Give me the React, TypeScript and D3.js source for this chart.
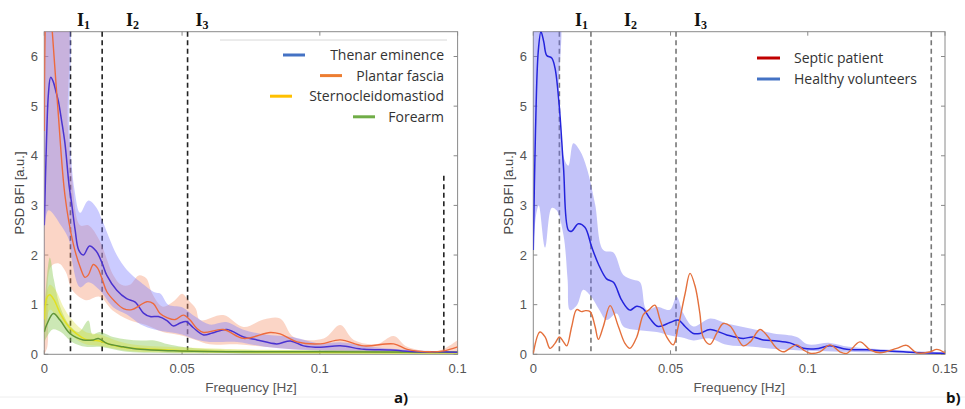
import React from "react";
import * as d3 from "d3";

type P = [number, number];

// ---------- Panel a data (frequency [Hz], PSD) ----------
const thenarLine: P[] = [[0,2.6],[0.0008,4.3],[0.0015,5.25],[0.0023,5.58],[0.0032,5.5],[0.0042,5.3],[0.0051,5.1],[0.0063,4.7],[0.0075,4.25],[0.009,3.4],[0.0099,3.05],[0.0112,2.5],[0.0125,2.1],[0.0142,2.0],[0.0164,2.18],[0.0188,2.08],[0.0209,1.85],[0.0227,1.59],[0.0263,1.29],[0.0299,1.12],[0.033,1.05],[0.036,0.83],[0.0384,0.76],[0.0414,0.76],[0.0445,0.68],[0.0469,0.57],[0.0493,0.63],[0.0515,0.66],[0.054,0.54],[0.0578,0.39],[0.061,0.43],[0.0663,0.5],[0.0723,0.35],[0.0772,0.29],[0.0844,0.21],[0.0893,0.27],[0.0941,0.17],[0.1002,0.14],[0.1074,0.17],[0.116,0.1],[0.1256,0.085],[0.1353,0.05],[0.1438,0.05],[0.15,0.04]];
const thenarUpper: P[] = [[0,7],[0.0075,7],[0.009,4.6],[0.011,3.3],[0.013,2.85],[0.016,3.1],[0.019,2.95],[0.021,2.7],[0.0263,2.0],[0.03,1.7],[0.035,1.45],[0.04,1.25],[0.0422,1.22],[0.045,1.0],[0.05,0.95],[0.055,0.75],[0.06,0.6],[0.066,0.65],[0.072,0.5],[0.08,0.4],[0.09,0.35],[0.1,0.22],[0.108,0.24],[0.12,0.14],[0.135,0.08],[0.15,0.05]];
const thenarLower: P[] = [[0,0.8],[0.0015,2.9],[0.006,2.6],[0.009,2.3],[0.01,1.9],[0.013,1.35],[0.016,1.45],[0.02,1.3],[0.025,0.95],[0.03,0.8],[0.035,0.6],[0.04,0.5],[0.045,0.45],[0.05,0.4],[0.055,0.3],[0.06,0.25],[0.07,0.25],[0.08,0.15],[0.09,0.1],[0.1,0.07],[0.12,0.03],[0.15,0.0]];

const plantarLine: P[] = [[0,4.5],[0.0004,6.8],[0.0012,7.8],[0.002,7.3],[0.0029,6.5],[0.005,4.9],[0.0075,3.2],[0.0105,2.23],[0.013,1.76],[0.0148,1.55],[0.016,1.6],[0.0178,1.81],[0.0193,1.74],[0.0209,1.53],[0.0227,1.26],[0.0257,1.06],[0.0287,0.92],[0.0318,0.9],[0.0348,0.99],[0.0372,1.06],[0.0396,1.02],[0.042,0.82],[0.0445,0.74],[0.0475,0.7],[0.0505,0.79],[0.0529,0.69],[0.0554,0.52],[0.0578,0.44],[0.065,0.5],[0.0723,0.32],[0.082,0.44],[0.0856,0.41],[0.0917,0.25],[0.1002,0.21],[0.1074,0.29],[0.116,0.17],[0.1268,0.21],[0.1317,0.1],[0.14,0.05],[0.145,0.07],[0.15,0.15]];
const plantarUpper: P[] = [[0,7],[0.007,7],[0.0085,4.6],[0.01,3.6],[0.013,2.6],[0.016,2.6],[0.02,2.3],[0.025,1.6],[0.028,1.4],[0.031,1.4],[0.0343,1.59],[0.037,1.53],[0.0392,1.22],[0.043,0.96],[0.0474,1.09],[0.05,1.22],[0.0523,1.09],[0.055,0.92],[0.0565,0.69],[0.065,0.79],[0.0723,0.55],[0.0796,0.7],[0.0856,0.72],[0.0905,0.35],[0.1014,0.32],[0.1074,0.59],[0.1123,0.29],[0.1208,0.21],[0.1268,0.37],[0.1317,0.15],[0.143,0.07],[0.15,0.29]];
const plantarLower: P[] = [[0,0],[0.0011,0.15],[0.0023,1.76],[0.0053,1.83],[0.0078,1.66],[0.0102,1.29],[0.0151,1.09],[0.02,1.16],[0.0247,0.89],[0.0308,0.69],[0.037,0.59],[0.043,0.45],[0.049,0.39],[0.055,0.29],[0.06,0.2],[0.07,0.2],[0.08,0.15],[0.09,0.1],[0.1,0.08],[0.11,0.06],[0.12,0.04],[0.13,0.03],[0.15,0.03]];

const sternoLine: P[] = [[0,0.7],[0.001,1.15],[0.002,1.2],[0.0035,1.1],[0.006,0.8],[0.009,0.55],[0.012,0.4],[0.015,0.3],[0.018,0.28],[0.02,0.27],[0.025,0.18],[0.03,0.13],[0.04,0.1],[0.05,0.07],[0.07,0.05],[0.1,0.04],[0.15,0.03]];
const sternoUpper: P[] = [[0,1.0],[0.002,1.4],[0.004,1.3],[0.007,0.95],[0.01,0.7],[0.015,0.45],[0.02,0.4],[0.03,0.22],[0.05,0.14],[0.08,0.09],[0.15,0.06]];
const sternoLower: P[] = [[0,0.3],[0.002,0.9],[0.004,0.8],[0.007,0.6],[0.01,0.38],[0.015,0.2],[0.02,0.17],[0.03,0.07],[0.05,0.03],[0.15,0.01]];

const forearmLine: P[] = [[0,0.45],[0.0009,0.6],[0.0033,0.82],[0.0057,0.69],[0.0093,0.42],[0.0141,0.29],[0.0178,0.29],[0.0196,0.32],[0.0227,0.22],[0.0287,0.15],[0.0348,0.1],[0.047,0.07],[0.07,0.05],[0.1,0.05],[0.15,0.04]];
const forearmUpper: P[] = [[0,0.9],[0.002,1.95],[0.0035,1.5],[0.0055,1.0],[0.009,0.6],[0.0125,0.45],[0.016,0.68],[0.0175,0.4],[0.02,0.45],[0.025,0.35],[0.03,0.3],[0.035,0.28],[0.04,0.28],[0.045,0.2],[0.05,0.15],[0.06,0.1],[0.1,0.08],[0.15,0.06]];
const forearmLower: P[] = [[0,0.25],[0.003,0.5],[0.006,0.45],[0.01,0.25],[0.015,0.15],[0.02,0.15],[0.03,0.05],[0.05,0.02],[0.15,0.01]];

// ---------- Panel b data ----------
const healthyLine: P[] = [[0,2.1],[0.0008,4.5],[0.0018,6.1],[0.0028,6.5],[0.0038,6.3],[0.0049,6.02],[0.0067,5.97],[0.0079,5.77],[0.0094,5.04],[0.011,3.77],[0.0128,2.5],[0.014,2.48],[0.0164,2.63],[0.0188,2.56],[0.0213,2.16],[0.0237,1.82],[0.0267,1.52],[0.0292,1.45],[0.0322,1.09],[0.0352,0.89],[0.0377,0.97],[0.04,0.92],[0.0425,0.72],[0.0455,0.56],[0.0498,0.64],[0.0528,0.69],[0.0553,0.56],[0.0583,0.42],[0.0607,0.42],[0.0644,0.5],[0.0705,0.39],[0.0765,0.32],[0.08,0.35],[0.0838,0.29],[0.0887,0.27],[0.0935,0.23],[0.0984,0.12],[0.103,0.11],[0.108,0.17],[0.1142,0.1],[0.1215,0.09],[0.1276,0.07],[0.1348,0.05],[0.142,0.03],[0.15,0.02]];
const healthyUpper: P[] = [[0,7],[0.0085,7],[0.0093,5.2],[0.0112,3.95],[0.0128,3.8],[0.0146,4.25],[0.017,4.1],[0.0195,3.75],[0.0225,3.03],[0.0255,2.1],[0.0292,2.05],[0.0328,1.6],[0.0364,1.5],[0.0389,1.45],[0.0413,0.9],[0.045,0.96],[0.0498,0.9],[0.0522,1.16],[0.0547,0.82],[0.0583,0.56],[0.0644,0.72],[0.0705,0.62],[0.079,0.52],[0.0875,0.42],[0.096,0.35],[0.1,0.2],[0.108,0.23],[0.115,0.15],[0.127,0.1],[0.14,0.06],[0.15,0.04]];
const healthyLower: P[] = [[0,2.1],[0.001,2.8],[0.002,3.0],[0.0043,2.15],[0.0067,2.95],[0.0085,2.9],[0.011,2.4],[0.0125,1.5],[0.0134,0.89],[0.016,1.0],[0.0182,1.3],[0.0207,1.19],[0.024,0.9],[0.0267,0.69],[0.0304,0.82],[0.0328,0.56],[0.0377,0.49],[0.045,0.45],[0.05,0.38],[0.055,0.33],[0.0583,0.28],[0.0644,0.32],[0.0705,0.19],[0.08,0.15],[0.09,0.1],[0.1,0.07],[0.12,0.04],[0.15,0.01]];
const septicLine: P[] = [[0,0.02],[0.0024,0.45],[0.0043,0.35],[0.0061,0.12],[0.0079,0.22],[0.0095,0.35],[0.011,0.25],[0.0122,0.17],[0.014,0.56],[0.0158,0.9],[0.0176,0.86],[0.019,0.88],[0.0207,0.86],[0.0225,0.56],[0.0237,0.3],[0.0255,0.56],[0.028,0.98],[0.031,0.56],[0.0334,0.22],[0.0352,0.12],[0.0377,0.35],[0.0401,0.8],[0.042,0.89],[0.0443,0.99],[0.0462,0.69],[0.0486,0.35],[0.051,0.19],[0.0528,0.56],[0.0553,1.22],[0.0571,1.63],[0.059,1.36],[0.0607,0.82],[0.0619,0.35],[0.0644,0.2],[0.0668,0.42],[0.0692,0.62],[0.0717,0.57],[0.0741,0.36],[0.0765,0.17],[0.079,0.25],[0.0826,0.5],[0.085,0.39],[0.0887,0.12],[0.0911,0.05],[0.096,0.19],[0.0984,0.09],[0.1008,0.02],[0.1044,0.05],[0.1081,0.19],[0.1117,0.05],[0.1142,0.02],[0.119,0.25],[0.1227,0.09],[0.1263,0.03],[0.1324,0.12],[0.136,0.18],[0.1397,0.03],[0.1445,0.05],[0.147,0.1],[0.15,0.03]];

// ---------- axes / annotations ----------
const xTicks = [0, 0.05, 0.1, 0.15];
const xTickLabelsA = ["0", "0.05", "0.1", "0.1"];
const xTickLabelsB = ["0", "0.05", "0.1", "0.15"];
const yTicks = [0, 1, 2, 3, 4, 5, 6];
const intervalBounds = [0.0095, 0.021, 0.052, 0.145];
const intervalNames = ["1", "2", "3"];
const legendA = ["Thenar eminence", "Plantar fascia", "Sternocleidomastiod", "Forearm"];
const legendAColors = ["#4472c4", "#ed7d31", "#ffc000", "#70ad47"];
const legendB = ["Septic patient", "Healthy volunteers"];
const legendBColors = ["#c00000", "#4472c4"];

const curve = d3.curveCatmullRom.alpha(0.5);

function makeScales(left: number, right: number) {
  const x = d3.scaleLinear().domain([0, 0.15]).range([left, right]);
  const y = d3.scaleLinear().domain([0, 6.5]).range([354.3, 31.7]);
  return { x, y };
}

function linePath(x: any, y: any, pts: P[]) {
  return d3.line<P>().x(d => x(d[0])).y(d => y(d[1])).curve(curve)(pts) || "";
}
function bandPath(x: any, y: any, up: P[], lo: P[]) {
  const a = linePath(x, y, up);
  const b = linePath(x, y, [...lo].reverse());
  return a + "L" + b.slice(1) + "Z";
}

const FONT = "'Liberation Sans', Arial, sans-serif";
const LFONT = "'Open Sans', sans-serif";
const SERIF = "'Liberation Serif', 'DejaVu Serif', serif";

function Frame({ x, y, id, labels, dashColor, dashTopFrom, labelXs, ylabX, yTickX, panelLabel, panelLabelX }: any) {
  const [l, r] = x.range();
  const t = y(6.5), b = y(0);
  return (
    <g>
      <rect x={l} y={t} width={r - l} height={b - t} fill="none" stroke="#8a8a8a" strokeWidth={1} />
      {yTicks.map(v => (
        <g key={"y" + v}>
          <line x1={l} x2={l + 4} y1={y(v)} y2={y(v)} stroke="#8a8a8a" />
          <line x1={r} x2={r - 4} y1={y(v)} y2={y(v)} stroke="#8a8a8a" />
          <text x={yTickX} y={y(v) + 4.5} textAnchor="end" fontFamily={FONT} fontSize={13} fill="#555">{v}</text>
        </g>
      ))}
      {xTicks.map((v, i) => (
        <g key={"x" + v}>
          <line x1={x(v)} x2={x(v)} y1={b} y2={b - 4} stroke="#8a8a8a" />
          <line x1={x(v)} x2={x(v)} y1={t} y2={t + 4} stroke="#8a8a8a" />
          <text x={x(v)} y={373} textAnchor="middle" fontFamily={FONT} fontSize={13} fill="#555">{labels[i]}</text>
        </g>
      ))}
      {intervalBounds.map((v, i) => (
        <line key={"d" + i} x1={x(v)} x2={x(v)} y1={i === 3 ? y(dashTopFrom) : t} y2={b}
          stroke={dashColor} strokeWidth={1.6} strokeDasharray="5,3.5" />
      ))}
      {intervalNames.map((n, i) => (
        <text key={"I" + n} x={labelXs[i]} y={26} fontFamily={SERIF} fontWeight="bold" fontSize={18} fill="#111">
          I<tspan fontSize={12} dy={3}>{n}</tspan>
        </text>
      ))}
      <text transform={`translate(${ylabX},${(t + b) / 2}) rotate(-90)`} textAnchor="middle" fontFamily={FONT} fontSize={13} fill="#444">PSD BFI [a.u.]</text>
      <text x={(l + r) / 2} y={392} textAnchor="middle" fontFamily={FONT} fontSize={13.5} fill="#555">Frequency [Hz]</text>
      <text x={panelLabelX} y={403} fontFamily={LFONT} fontWeight="bold" fontSize={15} fill="#111">{panelLabel}</text>
      <defs>
        <clipPath id={id}>
          <rect x={l} y={t} width={r - l} height={b - t} />
        </clipPath>
      </defs>
    </g>
  );
}

export default function App() {
  const A = makeScales(44.3, 457.6);
  const B = makeScales(533.3, 945);
  const xa = A.x, ya = A.y, xb = B.x, yb = B.y;
  return (
    <svg width={965} height={409} style={{ position: "absolute", left: 0, top: 0, background: "#fff" }}>
      <rect width={965} height={409} fill="#fff" />
      <line x1={0} x2={965} y1={397} y2={397} stroke="#eeeeee" strokeWidth={1} />

      {/* ---------- Panel a ---------- */}
      <Frame x={xa} y={ya} id="clipA" labels={xTickLabelsA} dashColor="#222" dashTopFrom={3.6}
        labelXs={[77, 126, 195.5]} ylabX={23.5} yTickX={38} panelLabel="a)" panelLabelX={394} />
      <g clipPath="url(#clipA)">
        <path d={bandPath(xa, ya, plantarUpper, plantarLower)} fill="#f59570" fillOpacity={0.4} />
        <path d={bandPath(xa, ya, thenarUpper, thenarLower)} fill="#7d7dff" fillOpacity={0.4} />
        <path d={bandPath(xa, ya, forearmUpper, forearmLower)} fill="#8fcc5a" fillOpacity={0.45} />
        <path d={bandPath(xa, ya, sternoUpper, sternoLower)} fill="#d8dc30" fillOpacity={0.35} />
        <path d={linePath(xa, ya, sternoLine)} fill="none" stroke="#e2e020" strokeWidth={1.5} />
        <path d={linePath(xa, ya, forearmLine)} fill="none" stroke="#5e9438" strokeWidth={1.5} />
        <path d={linePath(xa, ya, thenarLine)} fill="none" stroke="#4a33d0" strokeWidth={1.5} />
        <path d={linePath(xa, ya, plantarLine)} fill="none" stroke="#ee6a3c" strokeWidth={1.4} />
      </g>
      <line x1={220} x2={447} y1={40} y2={40} stroke="#d8d8d8" strokeWidth={1} />
      {legendA.map((s, i) => {
        const yy = 55 + i * 20.6;
        return (
          <g key={s}>
            <text x={444} y={yy + 5} textAnchor="end" fontFamily={LFONT} fontSize={14} fill="#333">{s}</text>
          </g>
        );
      })}
      {legendA.map((s, i) => {
        const yy = 55 + i * 20.6;
        const xs = [283, 320, 270, 353];
        return <line key={"sw" + s} x1={xs[i]} x2={xs[i] + 22} y1={yy} y2={yy} stroke={legendAColors[i]} strokeWidth={3} />;
      })}

      {/* ---------- Panel b ---------- */}
      <Frame x={xb} y={yb} id="clipB" labels={xTickLabelsB} dashColor="#777" dashTopFrom={6.5}
        labelXs={[575, 624, 694]} ylabX={513} yTickX={527} panelLabel="b)" panelLabelX={946} />
      <g clipPath="url(#clipB)">
        <path d={bandPath(xb, yb, healthyUpper, healthyLower)} fill="#7070f0" fillOpacity={0.42} />
        <path d={linePath(xb, yb, healthyLine)} fill="none" stroke="#2424dc" strokeWidth={1.5} />
        <path d={linePath(xb, yb, septicLine)} fill="none" stroke="#e4703c" strokeWidth={1.4} />
      </g>
      {legendB.map((s, i) => {
        const yy = 58 + i * 21;
        return (
          <g key={s}>
            <line x1={757} x2={780} y1={yy} y2={yy} stroke={legendBColors[i]} strokeWidth={3} />
            <text x={794} y={yy + 5} fontFamily={LFONT} fontSize={14} fill="#333">{s}</text>
          </g>
        );
      })}
    </svg>
  );
}
